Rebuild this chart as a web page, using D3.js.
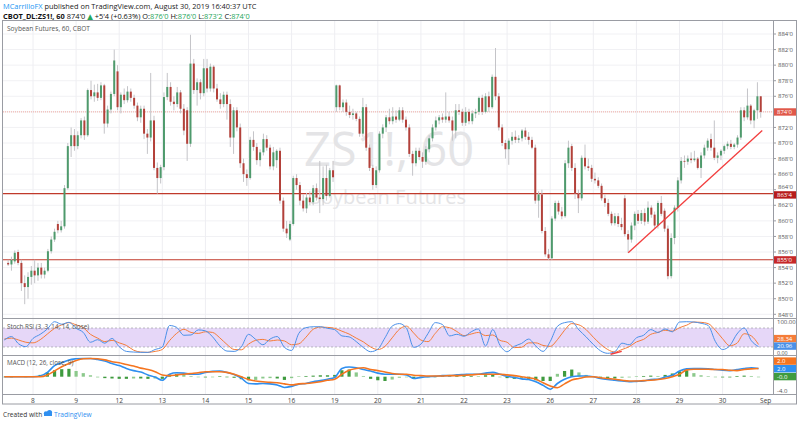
<!DOCTYPE html>
<html><head><meta charset="utf-8">
<script src="https://cdn.jsdelivr.net/npm/d3@7"></script>
<style>body{margin:0;background:#fff;}svg{display:block;font-family:"Open Sans","DejaVu Sans",sans-serif;}</style>
</head><body><svg id="c" width="800" height="423"></svg>
<script>
// ---------- data ----------
const dayLabels = ["8","9","12","13","14","15","16","19","20","21","22","23","26","27","28","29","30","Sep"];
const priceTicks = [848,850,852,854,856,858,860,862,864,866,868,870,872,874,876,878,880,882,884];
const levels = [863.5, 855.0];
const lastPrice = 874.0;
// hourly candles [open, high, low, close] per session
const aug07 = [[854.6,855.0,854.2,854.4],[854.4,855.4,853.6,855.0],[854.8,856.2,854.5,855.9],[856.0,856.3,854.3,854.6],[854.6,855.0,851.0,852.0],[852.0,853.0,849.3,851.5],[851.5,853.4,850.0,852.8],[852.8,854.2,851.8,853.6]];
const aug08 = [[853.6,855.0,852.0,853.0],[853.0,854.6,852.3,854.0],[854.0,854.6,852.6,853.1],[853.1,854.0,852.6,853.6],[853.6,856.4,853.4,856.1],[856.1,858.0,855.8,857.6],[857.6,859.0,857.3,858.6],[859.6,860.0,858.4,858.8],[858.8,860.0,858.5,859.3],[859.3,864.6,859.0,864.2],[864.2,870.0,864.0,869.6],[869.6,872.0,868.2,871.0],[871.0,871.8,869.0,869.6]];
const aug09 = [[869.6,871.5,869.2,871.0],[871.0,873.2,870.6,872.9],[872.9,873.4,870.4,871.0],[871.0,877.0,870.8,876.8],[876.8,878.0,875.6,876.0],[876.0,877.5,875.3,876.5],[876.5,877.6,875.4,875.8],[875.8,877.8,875.5,877.4],[877.4,877.6,871.2,872.5],[872.5,874.8,872.0,874.3],[874.3,876.6,873.8,876.3],[876.3,882.0,876.0,880.6],[879.2,880.0,874.2,874.6]];
const aug12 = [[874.6,876.5,873.8,876.2],[876.2,877.0,875.0,875.5],[875.5,877.3,875.2,876.6],[876.6,877.0,875.3,875.8],[875.8,876.2,874.4,874.8],[874.8,875.2,872.8,873.3],[873.3,874.8,872.6,874.4],[874.4,874.8,870.5,871.2],[871.2,871.8,868.6,870.7],[870.7,879.0,870.2,872.9],[872.9,873.5,866.5,866.8],[866.8,867.5,863.5,865.5],[865.5,867.2,864.8,866.9]];
const aug13 = [[866.9,876.5,866.5,875.9],[875.9,879.0,875.5,877.2],[877.2,877.8,874.8,875.3],[875.3,876.0,874.2,875.0],[875.0,877.2,874.6,876.5],[876.5,876.8,873.8,874.4],[874.4,875.0,871.0,871.6],[874.2,874.6,867.7,869.9],[869.9,883.9,869.5,880.2],[880.2,880.8,876.3,876.8],[876.8,878.3,874.8,877.8],[877.8,878.2,875.6,876.4],[876.4,880.8,876.0,879.6]];
const aug14 = [[879.6,880.8,876.5,877.0],[877.0,880.2,876.6,879.8],[879.8,880.0,876.5,877.0],[877.0,877.6,875.3,875.6],[875.6,876.4,874.4,875.0],[875.0,876.6,874.6,876.2],[876.2,876.6,873.0,875.0],[875.0,875.6,869.5,870.7],[870.7,874.6,868.6,874.2],[874.2,874.6,871.5,872.0],[872.0,872.5,866.8,867.4],[867.4,868.0,865.0,866.0],[866.0,866.6,864.5,865.5]];
const aug15 = [[865.5,870.8,865.3,870.4],[870.4,871.5,869.0,869.5],[869.5,870.0,867.2,867.8],[867.8,869.2,867.0,868.8],[868.8,871.2,868.4,870.5],[870.5,871.0,869.0,869.4],[869.4,869.8,866.6,867.0],[867.0,869.5,866.5,868.8],[867.8,869.2,866.8,869.0],[869.0,869.4,862.2,862.6],[862.6,863.0,858.6,859.0],[859.0,860.0,857.8,858.4],[857.6,860.0,857.4,859.6]];
const aug16 = [[859.6,865.8,859.4,865.5],[865.5,866.0,864.0,864.6],[864.6,865.0,862.0,862.6],[862.6,863.4,861.2,861.6],[861.6,863.6,861.0,863.0],[863.0,863.8,862.0,862.4],[862.4,864.6,862.0,864.2],[864.2,864.8,862.6,863.0],[863.0,867.7,861.0,862.8],[862.8,867.0,862.0,865.5],[865.5,867.2,862.6,863.2],[863.2,866.8,863.0,866.5],[866.5,867.7,865.0,865.6]];
const aug19 = [[874.6,877.5,874.0,877.4],[877.4,877.5,874.2,874.6],[874.6,875.6,874.0,875.2],[875.2,875.6,873.5,874.0],[874.0,874.8,873.2,873.6],[873.6,874.4,873.0,873.8],[873.8,874.0,872.8,873.1],[873.1,873.4,870.8,871.2],[871.2,875.8,870.8,874.6],[874.6,875.0,869.0,869.4],[869.4,869.8,866.4,866.8],[866.8,867.2,864.0,864.6],[864.6,867.0,864.2,866.5]];
const aug20 = [[866.5,871.5,866.2,871.2],[871.2,872.4,870.6,872.0],[872.0,873.6,871.4,873.3],[873.3,874.4,872.4,872.8],[872.8,874.6,872.4,873.4],[873.4,874.2,872.6,873.0],[873.0,874.6,872.8,874.2],[874.2,874.6,872.6,873.0],[873.0,873.4,871.6,872.0],[872.0,872.4,868.2,868.6],[868.6,869.0,865.8,867.4],[867.4,869.4,867.0,869.0],[869.0,869.4,867.8,868.2]];
const aug21 = [[868.2,868.8,866.8,867.6],[867.6,869.6,867.2,869.2],[869.2,871.0,868.8,870.6],[870.6,872.4,870.2,872.0],[872.0,873.4,871.6,872.9],[872.9,873.6,872.4,873.3],[873.3,873.8,872.6,873.0],[873.0,876.5,872.6,873.4],[873.4,874.0,872.6,872.9],[872.9,873.4,870.3,871.6],[871.6,875.0,870.6,874.2],[874.2,875.0,873.6,874.0],[874.0,874.4,872.2,872.6]];
const aug22 = [[872.6,874.6,872.2,874.0],[874.0,874.4,872.4,872.8],[872.8,874.2,872.4,873.8],[873.8,874.4,873.2,874.0],[874.0,876.0,873.6,875.8],[875.8,876.2,873.6,874.0],[874.0,876.4,873.8,876.0],[876.0,876.6,874.0,874.6],[874.6,878.8,874.4,878.5],[878.5,882.2,875.5,876.0],[876.0,876.4,871.6,872.0],[872.0,872.4,869.6,870.0],[870.0,870.4,868.0,869.2]];
const aug23 = [[869.2,870.6,867.2,870.3],[870.3,871.4,869.8,870.8],[870.8,871.6,870.0,870.4],[870.4,871.0,870.0,870.6],[870.6,871.8,870.2,871.6],[871.6,872.0,870.4,870.8],[870.8,871.4,869.8,870.4],[870.4,870.8,869.2,869.4],[869.4,869.8,862.2,862.6],[862.6,863.8,860.4,863.4],[863.4,864.0,858.4,858.7],[858.7,859.2,855.4,855.7],[855.7,856.4,855.0,855.2]];
const aug26 = [[855.2,860.6,855.0,860.3],[860.3,862.6,860.0,862.3],[862.3,862.6,860.8,861.2],[861.2,861.8,860.2,860.6],[860.6,867.8,860.4,867.4],[867.4,870.3,866.8,869.4],[869.6,869.9,866.4,866.8],[866.8,867.4,862.8,863.5],[863.5,864.0,861.0,862.9],[862.9,868.4,862.6,868.1],[868.1,869.8,866.6,867.0],[867.0,868.0,866.4,866.8],[866.8,867.2,865.0,865.4]];
const aug27 = [[865.4,866.2,864.8,865.2],[865.2,865.6,864.2,864.5],[864.5,864.8,862.6,862.9],[862.9,863.4,861.8,862.3],[862.3,862.8,860.6,860.9],[860.9,861.2,859.4,859.7],[859.7,861.0,859.4,860.6],[860.6,861.0,859.2,859.6],[859.6,860.4,858.8,859.2],[862.9,863.3,858.0,858.3],[858.3,858.8,855.9,857.6],[857.6,859.8,857.2,859.4],[859.4,861.2,858.8,860.9]];
const aug28 = [[860.9,861.4,859.6,860.0],[860.0,861.4,859.6,861.0],[861.0,861.6,859.4,859.9],[859.9,862.5,859.6,861.7],[861.7,862.0,860.4,860.8],[860.8,861.2,859.0,859.4],[859.4,862.6,859.0,862.3],[862.3,863.2,860.6,860.9],[861.3,861.6,858.6,859.0],[859.0,859.4,852.5,852.9],[852.9,858.4,852.6,857.8],[857.8,862.0,857.0,861.7],[861.7,865.6,861.2,865.2]];
const aug29 = [[865.2,868.2,864.8,867.7],[867.7,868.4,866.8,867.6],[867.6,868.4,867.2,868.0],[868.0,868.8,867.4,867.8],[867.8,869.0,867.6,868.0],[868.0,868.2,866.6,866.8],[866.8,868.8,865.5,868.4],[868.4,869.8,868.0,869.4],[869.4,870.6,869.0,870.3],[870.5,871.2,869.0,869.4],[869.4,872.9,867.8,868.1],[868.1,868.8,867.4,868.4],[868.4,869.2,867.8,869.0]];
const aug30 = [[869.0,869.8,868.6,869.6],[869.6,870.2,869.2,869.9],[869.9,870.4,869.2,869.5],[869.5,870.0,869.2,869.8],[869.8,871.0,869.4,870.7],[870.7,874.6,870.4,874.2],[874.2,874.6,872.8,873.3],[873.3,877.0,873.0,874.8],[874.8,875.0,872.4,872.9],[872.9,874.4,871.9,874.2],[874.2,877.8,873.1,876.0],[876.0,876.0,873.25,874.0]];
const sessions = [aug07,aug08,aug09,aug12,aug13,aug14,aug15,aug16,aug19,aug20,aug21,aug22,aug23,aug26,aug27,aug28,aug29,aug30];
// trend line drawn on price [session position, price]
const trendLine = [[13.81,855.9],[16.92,871.6]];
// indicators sampled every 1/6 session, starting 4/6 session before "8"
const stochK = [42,53,30,21,47,60,77,100,92,98,79,66,35,43,32,47,21,6,4,3,3,12,20,88,82,57,58,74,71,52,24,7,6,20,60,44,27,45,53,19,9,63,81,84,84,79,75,55,52,37,18,5,13,49,86,94,79,19,29,63,97,91,55,60,54,68,77,23,75,26,5,22,31,45,23,6,37,85,97,100,74,52,28,8,0,5,32,27,49,57,75,66,77,68,99,100,99,95,88,37,12,24,61,80,40,21];
const stochD = [45,48,42,35,33,43,61,79,90,97,90,81,60,48,37,41,33,25,10,4,3,6,12,40,63,76,66,63,68,66,49,28,12,11,29,41,44,39,42,39,27,30,51,76,83,82,79,70,61,48,36,20,12,22,49,76,86,64,42,37,63,84,81,69,56,61,66,56,58,41,35,18,19,33,33,25,22,43,73,94,90,75,51,29,12,4,12,21,36,44,60,66,73,70,81,89,99,98,94,73,46,24,32,62,55,28];
const stochTrend = [[13.40,-3],[13.66,6]];
const macdLine = [0,0,0,0,0,0.2,1.2,3.1,3.9,4.7,5.0,5.1,5.1,4.8,4.4,3.7,3.1,2.3,1.7,1.3,0.5,-0.1,-1.0,0.7,1.1,1.0,0.7,0.7,1.2,1.5,1.6,1.2,0.6,-0.4,-1.9,-2.0,-1.9,-2.0,-2.3,-3.0,-2.7,-2.1,-1.9,-1.4,-1.1,-0.7,-0.2,2.3,2.7,2.5,2.0,1.6,1.0,0.7,0.7,0.7,0.5,-0.5,-0.2,0,0.1,0.3,0.3,0.5,0.6,0.7,0.7,1.0,1.2,0.7,0.1,-0.2,-0.6,-0.8,-1.4,-2.4,-3.5,-1.9,-0.7,0,0.2,0.2,0,-0.5,-0.8,-1.0,-1.2,-1.4,-1.3,-1.2,-0.8,-0.7,-0.1,0.4,1.6,2.2,2.3,2.3,2.2,2.0,1.8,1.7,2.0,2.3,2.5,2.3];
const signalLine = [0,0,0,0,0,0,0.5,1.6,2.8,3.7,4.5,5.0,5.1,5.0,4.7,4.2,3.9,3.4,3.0,2.4,2.0,1.4,0.5,0.3,0.5,0.7,0.9,1.1,1.4,1.4,1.4,1.2,0.7,0,-0.8,-1.2,-1.4,-1.6,-1.7,-2.0,-2.3,-2.0,-1.9,-1.7,-1.4,-1.0,-0.7,0.7,1.8,2.3,2.5,2.0,1.7,1.3,0.9,0.7,0.7,0.4,0.3,0.2,0.2,0.2,0.3,0.3,0.4,0.5,0.7,0.7,0.7,0.7,0.5,0.3,0,-0.3,-0.7,-1.7,-2.6,-3.1,-2.0,-0.9,-0.5,-0.1,0,-0.3,-0.5,-0.7,-1.0,-1.2,-1.2,-1.1,-1.0,-0.8,-0.5,0,0.7,1.9,2.1,2.1,2.1,2.0,2.0,1.8,1.7,2.0,2.2,2.3];
const histogram = [0,0,0.1,0,0.1,0.5,1.2,1.8,2.1,2.2,1.6,1.0,0.4,-0.2,-0.4,-0.5,-0.6,-0.6,-0.5,-0.5,-0.6,-0.5,-0.6,0.6,0.8,0.5,0.2,-0.1,-0.2,-0.1,0.1,-0.1,-0.3,-0.7,-1.0,-0.9,-0.5,-0.4,-0.5,-0.9,-0.4,0.1,0.2,0.3,0.4,0.4,0.5,1.8,2.0,1.2,0.2,-0.6,-1.0,-1.2,-0.8,-0.3,-0.1,-0.6,-0.4,-0.2,0,0.1,0.1,0.2,0.2,0.2,0.1,0.4,0.5,0,-0.4,-0.6,-0.5,-0.6,-1.0,-1.2,-1.2,0.8,1.6,2.0,1.2,0.5,0.1,-0.3,-0.5,-0.5,-0.3,-0.2,0.1,0.2,0.3,0.2,0.5,0.9,1.5,1.8,1.0,0.4,0.1,0,-0.2,-0.2,0.2,0.3,0.2,0];

// ---------- layout ----------
const svg = d3.select("#c");
const L = 3, R = 773;
const mainTop = 21, mainBot = 318.5, stTop = 318.5, stBot = 355.5, mdTop = 355.5, mdBot = 394.5;
const x = d3.scaleLinear().domain([0, 17]).range([33, 765.7]);
const yP = d3.scaleLinear().domain([848, 884]).range([314.3, 34]);
const yS = d3.scaleLinear().domain([0, 100]).range([353.3, 321.7]);
const yM = d3.scaleLinear().domain([-4, 0]).range([391, 376.7]);
const perSession = 13;
const fmt = p => { const w = Math.floor(p + 1e-9); return w + "'" + Math.round((p - w) * 8); };

const candles = [];
sessions.forEach((arr, i) => {
  const off = i === 0 ? perSession - arr.length : 0;
  arr.forEach((b, j) => candles.push({ t: i - 1 + (off + j + 0.5) / perSession, o: b[0], h: b[1], l: b[2], c: b[3] }));
});
const sampleT = i => -4 / 6 + i / 6;

const defs = svg.append("defs");
defs.append("clipPath").attr("id", "cm").append("rect").attr("x", L).attr("y", mainTop).attr("width", R - L).attr("height", mainBot - mainTop);
defs.append("clipPath").attr("id", "cs").append("rect").attr("x", L).attr("y", stTop).attr("width", R - L).attr("height", stBot - stTop);
defs.append("clipPath").attr("id", "cd").append("rect").attr("x", L).attr("y", mdTop).attr("width", R - L).attr("height", mdBot - mdTop);

// header
const h1 = svg.append("text").attr("x", 3).attr("y", 9).attr("font-size", 7.4);
h1.append("tspan").attr("fill", "#2196f3").text("MCarrilloFX");
h1.append("tspan").attr("fill", "#222").text(" published on TradingView.com, August 30, 2019 16:40:37 UTC");
const h2 = svg.append("text").attr("x", 3).attr("y", 18.5).attr("font-size", 7.4).attr("fill", "#111");
h2.append("tspan").attr("font-weight", "bold").text("CBOT_DL:ZS1!, 60");
h2.append("tspan").text(" " + fmt(lastPrice) + " ");
h2.append("tspan").attr("fill", "#26a65b").text("▲");
h2.append("tspan").text(" +5'4 (+0.63%) ");
[["O:", 876.0], ["H:", 876.0], ["L:", 873.25], ["C:", 874.0]].forEach(([k, v]) => {
  h2.append("tspan").text(" " + k);
  h2.append("tspan").attr("fill", "#26a65b").text(fmt(v));
});

// grid
const g = svg.append("g");
g.selectAll("line.hg").data(priceTicks).join("line")
  .attr("x1", L).attr("x2", R).attr("y1", d => yP(d)).attr("y2", d => yP(d))
  .attr("stroke", "#f1f1f4").attr("stroke-width", 1);
g.selectAll("line.vg").data(dayLabels.slice(0, 17)).join("line")
  .attr("x1", (d, i) => x(i)).attr("x2", (d, i) => x(i)).attr("y1", mainTop).attr("y2", mdBot)
  .attr("stroke", "#eeeef2").attr("stroke-width", 1);

// watermark
svg.append("text").attr("x", 389).attr("y", 166).attr("text-anchor", "middle").attr("font-size", 47)
  .attr("fill", "#e4e4e6").text("ZS1!, 60");
svg.append("text").attr("x", 388).attr("y", 204).attr("text-anchor", "middle").attr("font-size", 20)
  .attr("fill", "#e4e4e6").text("Soybean Futures");

// main panel
const mp = svg.append("g").attr("clip-path", "url(#cm)");
mp.append("line").attr("x1", L).attr("x2", R).attr("y1", yP(lastPrice)).attr("y2", yP(lastPrice))
  .attr("stroke", "#f1a9a2").attr("stroke-dasharray", "1,1").attr("stroke-width", 1);
mp.selectAll("line.lv").data(levels).join("line")
  .attr("x1", L).attr("x2", R).attr("y1", d => yP(d)).attr("y2", d => yP(d))
  .attr("stroke", "#c0392b").attr("stroke-width", 1.1);
const cg = mp.append("g");
cg.selectAll("line.w").data(candles).join("line")
  .attr("x1", d => x(d.t)).attr("x2", d => x(d.t)).attr("y1", d => yP(d.h)).attr("y2", d => yP(d.l))
  .attr("stroke", "#c4c4c8").attr("stroke-width", 1);
cg.selectAll("rect.b").data(candles).join("rect")
  .attr("x", d => x(d.t) - 1).attr("width", 2)
  .attr("y", d => yP(Math.max(d.o, d.c)))
  .attr("height", d => Math.max(0.8, Math.abs(yP(d.o) - yP(d.c))))
  .attr("fill", d => d.c >= d.o ? "#4e9a6c" : "#b3413a");
mp.append("line").attr("x1", x(trendLine[0][0])).attr("y1", yP(trendLine[0][1]))
  .attr("x2", x(trendLine[1][0])).attr("y2", yP(trendLine[1][1]))
  .attr("stroke", "#f23d3d").attr("stroke-width", 1.3);
svg.append("text").attr("x", 7).attr("y", 31).attr("font-size", 6.6).attr("fill", "#555").text("Soybean Futures, 60, CBOT");

// stoch rsi panel
const sp = svg.append("g").attr("clip-path", "url(#cs)");
sp.append("rect").attr("x", L).attr("width", R - L).attr("y", yS(80)).attr("height", yS(20) - yS(80)).attr("fill", "#e6d7f8");
[80, 20].forEach(v => sp.append("line").attr("x1", L).attr("x2", R).attr("y1", yS(v)).attr("y2", yS(v))
  .attr("stroke", "#a9a9b0").attr("stroke-dasharray", "2,2").attr("stroke-width", 0.8));
const lineS = arr => d3.line().x((d, i) => x(sampleT(i))).y(d => yS(d)).curve(d3.curveMonotoneX)(arr);
sp.append("path").attr("d", lineS(stochD)).attr("fill", "none").attr("stroke", "#f57c38").attr("stroke-width", 1);
sp.append("path").attr("d", lineS(stochK)).attr("fill", "none").attr("stroke", "#4a90e8").attr("stroke-width", 1);
sp.append("line").attr("x1", x(stochTrend[0][0])).attr("y1", yS(stochTrend[0][1]))
  .attr("x2", x(stochTrend[1][0])).attr("y2", yS(stochTrend[1][1])).attr("stroke", "#f23d3d").attr("stroke-width", 1.3);
svg.append("text").attr("x", 7).attr("y", 329).attr("font-size", 6.3).attr("fill", "#555").text("Stoch RSI (3, 3, 14, 14, close)");

// macd panel
const dp = svg.append("g").attr("clip-path", "url(#cd)");
dp.selectAll("rect.h").data(histogram).join("rect")
  .attr("x", (d, i) => x(sampleT(i)) - 1.6).attr("width", 3.2)
  .attr("y", d => Math.min(yM(d), yM(0))).attr("height", d => Math.max(0.6, Math.abs(yM(d) - yM(0))))
  .attr("fill", (d, i) => (i > 0 && Math.abs(d) >= Math.abs(histogram[i - 1])) ? "#3f9b3f" : "#8cc98c");
const lineM = arr => d3.line().x((d, i) => x(sampleT(i))).y(d => yM(d)).curve(d3.curveMonotoneX)(arr);
dp.append("path").attr("d", lineM(macdLine)).attr("fill", "none").attr("stroke", "#2f8ff0").attr("stroke-width", 1.6);
dp.append("path").attr("d", lineM(signalLine)).attr("fill", "none").attr("stroke", "#f57520").attr("stroke-width", 1.6);
svg.append("text").attr("x", 7).attr("y", 365).attr("font-size", 6.3).attr("fill", "#555").text("MACD (12, 26, close, 9)");

// frames
const fr = svg.append("g").attr("fill", "none").attr("stroke", "#9a9ca3").attr("stroke-width", 1);
fr.append("rect").attr("x", L - 0.5).attr("y", mainTop - 0.5).attr("width", 797 - L).attr("height", mdBot - mainTop + 10);
[mainBot, stBot, mdBot].forEach(yy => fr.append("line").attr("x1", L).attr("x2", 797).attr("y1", yy).attr("y2", yy));
fr.append("line").attr("x1", R + 0.5).attr("x2", R + 0.5).attr("y1", mainTop).attr("y2", mdBot);

// price axis
const ax = svg.append("g").attr("font-size", 6).attr("fill", "#555");
ax.selectAll("text.pt").data(priceTicks).join("text")
  .attr("x", 778).attr("y", d => yP(d) + (d === 864 ? -0.4 : 2.2)).text(d => fmt(d));
ax.selectAll("line.tk").data(priceTicks).join("line")
  .attr("x1", R).attr("x2", R + 3).attr("y1", d => yP(d)).attr("y2", d => yP(d)).attr("stroke", "#9a9ca3");
const tag = (yy, txt, bg) => {
  svg.append("rect").attr("x", R + 1).attr("y", yy - 3.6).attr("width", 22).attr("height", 7.4).attr("fill", bg);
  svg.append("text").attr("x", R + 4).attr("y", yy + 2.1).attr("font-size", 6).attr("fill", "#fff").text(txt);
};
tag(yP(lastPrice), fmt(lastPrice), "#e0584a");
tag(yP(levels[0]) + 1.2, fmt(levels[0]), "#b71c1c");
tag(yP(levels[1]), fmt(levels[1]), "#c62828");

// stoch axis
ax.append("text").attr("x", 777).attr("y", yS(100) + 2.4).text("100.00");
tag(338.5, "28.34", "#f57c38");
tag(346, "20.96", "#4a90e8");
ax.append("text").attr("x", 777).attr("y", 355).attr("font-size", 5.4).text("0.00");
// macd axis
tag(361, "2.0", "#f57520");
tag(368.6, "2.0", "#2f8ff0");
tag(376.5, "-0.0", "#3f9b3f");
ax.append("text").attr("x", 777).attr("y", yM(-4) + 2.2).text("-4.0");

// time axis
svg.append("g").attr("font-size", 6.6).attr("fill", "#444").selectAll("text").data(dayLabels).join("text")
  .attr("x", (d, i) => x(i)).attr("y", 402.5).attr("text-anchor", "middle").text(d => d);

// footer
svg.append("text").attr("x", 3).attr("y", 417).attr("font-size", 6.6).attr("fill", "#333").text("Created with ");
const lg = svg.append("g").attr("fill", "#2f8ff0");
lg.append("circle").attr("cx", 46).attr("cy", 413.5).attr("r", 2.2);
lg.append("circle").attr("cx", 49.5).attr("cy", 412.5).attr("r", 2.6);
lg.append("rect").attr("x", 44).attr("y", 413.5).attr("width", 8).attr("height", 2.5);
svg.append("text").attr("x", 54).attr("y", 417).attr("font-size", 6.6).attr("fill", "#2f8ff0").text("TradingView");
</script></body></html>
